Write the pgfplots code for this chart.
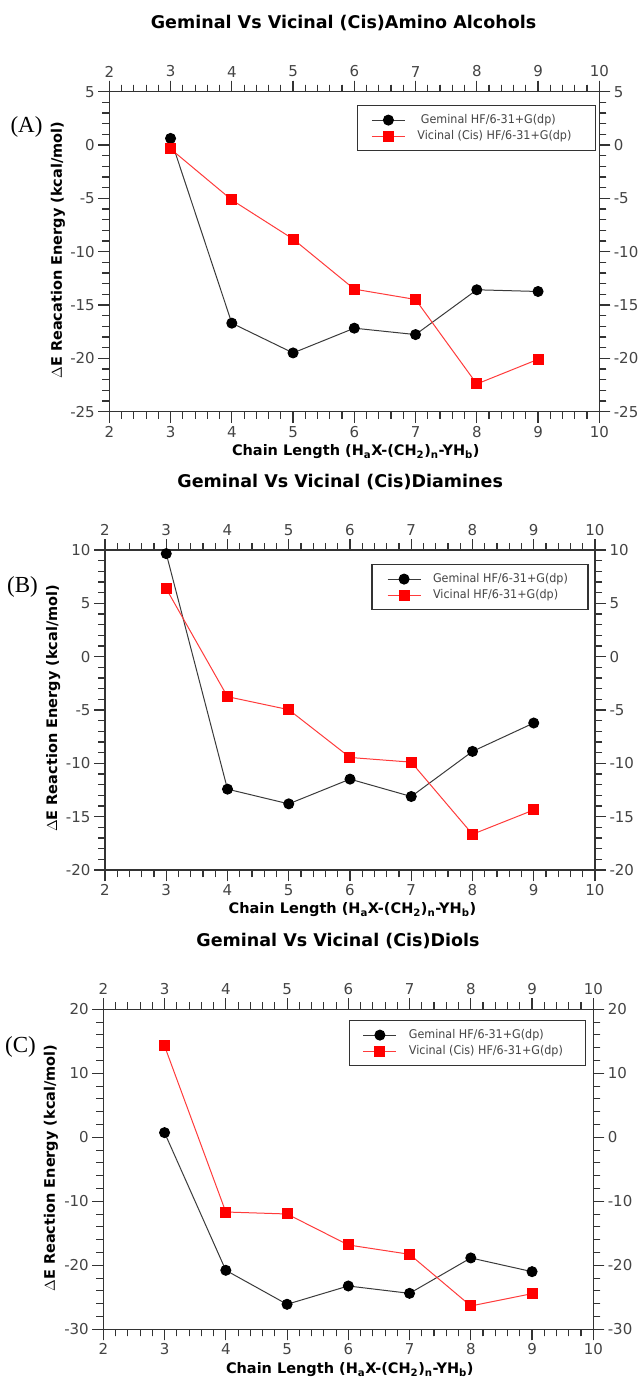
\documentclass[border=0pt]{standalone}
\usepackage{fontspec}
\setmainfont{DejaVu Sans}
\newfontfamily\legfont[FakeStretch=0.93]{DejaVu Sans}
\newfontfamily\seriffont{Liberation Serif}
\usepackage{pgfplots}
\pgfplotsset{compat=1.18}
\definecolor{axgray}{HTML}{333333}
\definecolor{tickgray}{HTML}{444444}
\definecolor{gemline}{HTML}{3A3A3A}
\definecolor{vicline}{HTML}{FF3B3B}
\pgfplotsset{
  base/.style={
    scale only axis, width=490pt, height=320pt,
    xmin=2, xmax=10, xtick={2,3,...,10},
    minor x tick num=4, minor y tick num=4,
    tick align=outside, major tick length=11pt, minor tick length=7pt,
    axis line style={axgray, line width=1.2pt},
    tick style={axgray, line width=1.1pt},
    /pgf/number format/assume math mode=true,
    tick label style={font=\fontsize{15}{15}\selectfont, text=tickgray},
    clip=false,
  },
  upperlabels/.style={base, xticklabel pos=upper, yticklabel pos=right},
  mainax/.style={base,
    xlabel={Chain Length (H\textsubscript{a}X-(CH\textsubscript{2})\textsubscript{n}-YH\textsubscript{b})},
    xlabel style={anchor=center, font=\bfseries\fontsize{14.5}{14.5}\selectfont},
    ylabel style={anchor=center, font=\bfseries\fontsize{14.5}{14.5}\selectfont},
    title style={anchor=center, yshift=-6pt, font=\bfseries\fontsize{17.5}{17.5}\selectfont},
    legend cell align=left,
    legend image code/.code={\draw[mark repeat=2,mark phase=2] plot coordinates {(0pt,0pt)(16.5pt,0pt)(33pt,0pt)};},
    legend style={at={(1,1)}, anchor=north east, draw=axgray, line width=1.2pt, fill=white,
      inner xsep=14pt, inner ysep=8pt, row sep=3pt, column sep=12pt,
      nodes={inner sep=0pt, text height=10pt, text depth=3pt, font=\legfont\fontsize{12}{12}\selectfont, text=tickgray}},
  },
  gem/.style={gemline, line width=1pt, mark=*, mark size=5pt, mark options={fill=black, draw=black}},
  vic/.style={vicline, line width=1pt, mark=square*, mark size=5pt, mark options={fill=red, draw=red}},
}
\begin{document}
\begin{tikzpicture}
\useasboundingbox (0,0) rectangle (641pt,-1380pt);
% ---------- Panel A ----------
\begin{axis}[upperlabels, at={(109.3pt,-91.7pt)}, anchor=north west,
  ymin=-25, ymax=5, ytick={-25,-20,...,5}]
\end{axis}
\begin{axis}[mainax, at={(109.3pt,-91.7pt)}, anchor=north west,
  ymin=-25, ymax=5, ytick={-25,-20,...,5},
  title={Geminal Vs Vicinal (Cis)Amino Alcohols},
  title style={at={(axis description cs:0.478,1.215)}},
  xlabel style={at={(axis description cs:0.503,-0.126)}},
  ylabel={$\Delta$E Reacation Energy (kcal/mol)},
  ylabel style={at={(axis description cs:-0.1047,0.505)}},
  legend style={xshift=-3.3pt, yshift=-13.3pt}]
\addplot[gem] coordinates {(3,0.62) (4,-16.70) (5,-19.49) (6,-17.17) (7,-17.77) (8,-13.57) (9,-13.73)};
\addlegendentry{\makebox[164pt][l]{\ Geminal HF/6-31+G(dp)}}
\addplot[vic] coordinates {(3,-0.36) (4,-5.15) (5,-8.81) (6,-13.51) (7,-14.48) (8,-22.40) (9,-20.09)};
\addlegendentry{\makebox[164pt][l]{Vicinal (Cis) HF/6-31+G(dp)}}
\end{axis}
\node[font=\seriffont\fontsize{23}{23}\selectfont] at (26.5pt,-127pt) {(A)};
% ---------- Panel B ----------
\begin{axis}[upperlabels, at={(105pt,-550pt)}, anchor=north west,
  ymin=-20, ymax=10, ytick={-20,-15,...,10}]
\end{axis}
\begin{axis}[mainax, at={(105pt,-550pt)}, anchor=north west,
  ymin=-20, ymax=10, ytick={-20,-15,...,10},
  title={Geminal Vs Vicinal (Cis)Diamines},
  title style={at={(axis description cs:0.48,1.2125)}},
  xlabel style={at={(axis description cs:0.505,-0.125)}},
  ylabel={$\Delta$E Reaction Energy (kcal/mol)},
  ylabel style={at={(axis description cs:-0.106,0.505)}},
  legend style={xshift=-6.3pt, yshift=-14pt, inner xsep=15pt}]
\addplot[gem] coordinates {(3,9.66) (4,-12.42) (5,-13.80) (6,-11.48) (7,-13.11) (8,-8.88) (9,-6.22)};
\addlegendentry{\makebox[140pt][l]{Geminal HF/6-31+G(dp)}}
\addplot[vic] coordinates {(3,6.37) (4,-3.75) (5,-4.97) (6,-9.45) (7,-9.89) (8,-16.65) (9,-14.37)};
\addlegendentry{\makebox[140pt][l]{Vicinal HF/6-31+G(dp)}}
\end{axis}
\node[font=\seriffont\fontsize{23}{23}\selectfont] at (22.5pt,-586.7pt) {(B)};
% ---------- Panel C ----------
\begin{axis}[upperlabels, at={(103.3pt,-1009.3pt)}, anchor=north west,
  ymin=-30, ymax=20, ytick={-30,-20,...,20}]
\end{axis}
\begin{axis}[mainax, at={(103.3pt,-1009.3pt)}, anchor=north west,
  ymin=-30, ymax=20, ytick={-30,-20,...,20},
  title={Geminal Vs Vicinal (Cis)Diols},
  title style={at={(axis description cs:0.479,1.213)}},
  xlabel style={at={(axis description cs:0.503,-0.127)}},
  ylabel={$\Delta$E Reaction Energy (kcal/mol)},
  ylabel style={at={(axis description cs:-0.107,0.504)}},
  legend style={xshift=-6.8pt, yshift=-10.7pt, inner xsep=13pt}]
\addplot[gem] coordinates {(3,0.73) (4,-20.78) (5,-26.09) (6,-23.23) (7,-24.38) (8,-18.85) (9,-20.99)};
\addlegendentry{\makebox[164pt][l]{Geminal HF/6-31+G(dp)}}
\addplot[vic] coordinates {(3,14.27) (4,-11.67) (5,-11.98) (6,-16.82) (7,-18.28) (8,-26.35) (9,-24.43)};
\addlegendentry{\makebox[164pt][l]{Vicinal (Cis) HF/6-31+G(dp)}}
\end{axis}
\node[font=\seriffont\fontsize{23}{23}\selectfont] at (20.5pt,-1047pt) {(C)};
\end{tikzpicture}
\end{document}
